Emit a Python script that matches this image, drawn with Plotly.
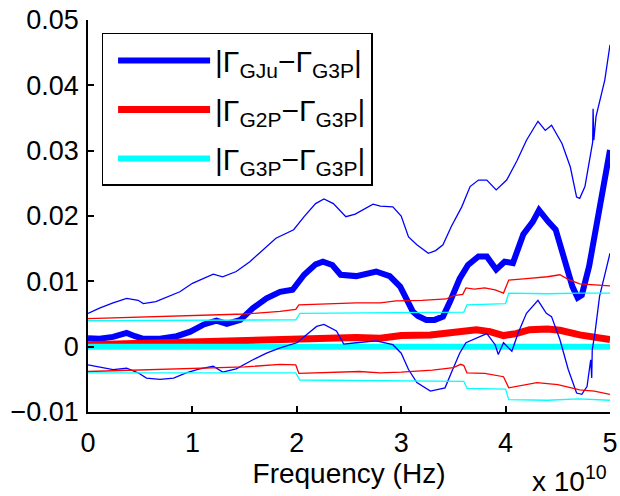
import plotly.graph_objects as go

# frequency in units of 1e10 Hz
gju_f = [0.00, 0.11, 0.24, 0.37, 0.45, 0.53, 0.69, 0.85, 0.98, 1.11, 1.23, 1.33, 1.46, 1.58, 1.71, 1.84, 1.96,
         2.07, 2.18, 2.25, 2.34, 2.42, 2.57, 2.70, 2.76, 2.89, 2.99, 3.06, 3.11, 3.16, 3.24, 3.32, 3.40, 3.47,
         3.56, 3.64, 3.74, 3.82, 3.91, 3.99, 4.07, 4.17, 4.26, 4.32, 4.36, 4.41, 4.48, 4.56, 4.64, 4.69, 4.73,
         4.80, 4.88, 4.94, 5.00]
gju_v = [0.0013, 0.0012, 0.0015, 0.0021, 0.0016, 0.0012, 0.0012, 0.0016, 0.0023, 0.0034, 0.0040, 0.0035, 0.0041,
         0.0059, 0.0074, 0.0084, 0.0087, 0.0110, 0.0126, 0.0130, 0.0125, 0.0110, 0.0108, 0.0113, 0.0115, 0.0108,
         0.0092, 0.0070, 0.0054, 0.0047, 0.0041, 0.0041, 0.0046, 0.0070, 0.0104, 0.0125, 0.0138, 0.0138, 0.0118,
         0.0130, 0.0128, 0.0172, 0.0191, 0.0209, 0.0200, 0.0191, 0.0179, 0.0138, 0.0092, 0.0075, 0.0079, 0.0123,
         0.0194, 0.0245, 0.0301]

gju_up_f = [0.00, 0.11, 0.24, 0.37, 0.48, 0.53, 0.65, 0.78, 0.88, 1.00, 1.20, 1.29, 1.42, 1.55, 1.68, 1.80, 1.97,
            2.07, 2.18, 2.26, 2.35, 2.47, 2.56, 2.73, 2.80, 2.92, 3.00, 3.07, 3.15, 3.26, 3.33, 3.40, 3.48, 3.58,
            3.66, 3.74, 3.82, 3.91, 4.01, 4.11, 4.20, 4.31, 4.38, 4.44, 4.54, 4.62, 4.68, 4.71, 4.76, 4.80, 4.834,
            4.838, 4.845, 4.866, 4.95, 5.00]
gju_up_v = [0.0051, 0.0059, 0.0067, 0.0074, 0.0071, 0.0066, 0.0069, 0.0077, 0.0084, 0.0097, 0.0111, 0.0107, 0.0115,
            0.0130, 0.0149, 0.0166, 0.0179, 0.0199, 0.0219, 0.0226, 0.0219, 0.0199, 0.0203, 0.0218, 0.0215, 0.0214,
            0.0200, 0.0168, 0.0156, 0.0143, 0.0147, 0.0156, 0.0184, 0.0214, 0.0245, 0.0255, 0.0255, 0.0240, 0.0255,
            0.0285, 0.0316, 0.0345, 0.0331, 0.0339, 0.0311, 0.0275, 0.0229, 0.0227, 0.0245, 0.0285, 0.0313, 0.0364,
            0.0316, 0.0352, 0.0408, 0.0462]

gju_lo_f = [0.00, 0.11, 0.24, 0.37, 0.48, 0.56, 0.69, 0.82, 0.94, 1.07, 1.20, 1.29, 1.42, 1.58, 1.71, 1.84, 2.00,
            2.19, 2.26, 2.38, 2.45, 2.57, 2.76, 2.92, 3.00, 3.07, 3.15, 3.28, 3.42, 3.48, 3.56, 3.62, 3.72, 3.82,
            3.90, 3.93, 3.98, 4.06, 4.12, 4.20, 4.31, 4.39, 4.44, 4.52, 4.60, 4.68, 4.73, 4.78, 4.815, 4.825, 4.83,
            4.856, 4.90, 5.00]
gju_lo_v = [-0.0028, -0.0031, -0.0035, -0.0033, -0.0040, -0.0048, -0.0050, -0.0048, -0.0040, -0.0034, -0.0030,
            -0.0039, -0.0034, -0.0020, -0.0010, -0.0002, 0.0006, 0.0031, 0.0034, 0.0024, 0.0004, 0.0006, 0.0009,
            0.0003, -0.0010, -0.0035, -0.0055, -0.0068, -0.0063, -0.0040, -0.0010, 0.0006, 0.0013, 0.0020, 0.0003,
            -0.0012, 0.0006, -0.0007, 0.0021, 0.0051, 0.0071, 0.0051, 0.0046, 0.0011, -0.0035, -0.0071, -0.0073,
            -0.0061, -0.0020, -0.0048, -0.0005, 0.0021, 0.0077, 0.0143]

g2p_f = [0.00, 0.50, 1.00, 1.50, 1.84, 2.00, 2.57, 2.80, 3.00, 3.28, 3.50, 3.72, 3.85, 3.98, 4.10, 4.23, 4.40,
         4.52, 4.71, 4.85, 5.00]
g2p_v = [0.0003, 0.0005, 0.0007, 0.0010, 0.0012, 0.0011, 0.0014, 0.0013, 0.0017, 0.0018, 0.0021, 0.0026, 0.0023,
         0.0017, 0.0020, 0.0026, 0.0027, 0.0025, 0.0018, 0.0014, 0.0011]

g2p_up_f = [0.00, 0.50, 1.00, 1.50, 1.84, 1.99, 2.02, 2.30, 2.57, 2.80, 2.95, 3.20, 3.43, 3.50, 3.59, 3.62, 3.70,
            3.80, 3.90, 3.98, 4.03, 4.20, 4.40, 4.52, 4.60, 4.71, 4.85, 5.00]
g2p_up_v = [0.0043, 0.0045, 0.0047, 0.0050, 0.0054, 0.0057, 0.0064, 0.0066, 0.0067, 0.0067, 0.0070, 0.0071,
            0.0073, 0.0078, 0.0080, 0.0090, 0.0088, 0.0090, 0.0087, 0.0082, 0.0102, 0.0104, 0.0107, 0.0110, 0.0103,
            0.0096, 0.0095, 0.0093]

g2p_lo_f = [0.00, 0.50, 1.00, 1.50, 1.84, 1.99, 2.02, 2.30, 2.60, 2.80, 3.00, 3.30, 3.50, 3.57, 3.60, 3.63, 3.80,
            3.98, 4.03, 4.30, 4.50, 4.71, 4.85, 5.00]
g2p_lo_v = [-0.0038, -0.0036, -0.0034, -0.0031, -0.0027, -0.0028, -0.0041, -0.0040, -0.0038, -0.0040, -0.0039,
            -0.0036, -0.0032, -0.0027, -0.0029, -0.0040, -0.0041, -0.0046, -0.0063, -0.0055, -0.0058, -0.0066,
            -0.0068, -0.0073]

g3p_f = [0.00, 5.00]
g3p_v = [0.0, 0.0]

g3p_up_f = [0.00, 1.99, 2.03, 3.60, 3.63, 4.00, 4.03, 4.40, 4.70, 5.00]
g3p_up_v = [0.0040, 0.0041, 0.0051, 0.0053, 0.0064, 0.0066, 0.0082, 0.0081, 0.0082, 0.0082]

g3p_lo_f = [0.00, 1.99, 2.03, 3.60, 3.63, 4.00, 4.03, 4.40, 4.70, 5.00]
g3p_lo_v = [-0.0040, -0.0040, -0.0051, -0.0053, -0.0064, -0.0065, -0.0081, -0.0082, -0.0080, -0.0082]

x_ticks = [0, 1, 2, 3, 4, 5]
y_ticks = [-0.01, 0, 0.01, 0.02, 0.03, 0.04, 0.05]
y_ticktext = ["\u22120.01", "0", "0.01", "0.02", "0.03", "0.04", "0.05"]

names = ["|\u0393<sub>GJu</sub>\u2212\u0393<sub>G3P</sub>|",
         "|\u0393<sub>G2P</sub>\u2212\u0393<sub>G3P</sub>|",
         "|\u0393<sub>G3P</sub>\u2212\u0393<sub>G3P</sub>|"]

BLUE, RED, CYAN = "#0000FF", "#FF0000", "#00FFFF"
FONT = "Liberation Sans, Arial, sans-serif"


def hz(v):
    return [x * 1e10 for x in v]


fig = go.Figure()
for i, (fx, fy, c, w) in enumerate([(gju_f, gju_v, BLUE, 6), (g2p_f, g2p_v, RED, 7), (g3p_f, g3p_v, CYAN, 6)]):
    fig.add_trace(go.Scatter(x=hz(fx), y=fy, mode="lines", line=dict(color=c, width=w),
                             name=names[i], legendgroup="g%d" % i))

for fx, fy, c in [(gju_up_f, gju_up_v, BLUE), (gju_lo_f, gju_lo_v, BLUE),
                  (g2p_up_f, g2p_up_v, RED), (g2p_lo_f, g2p_lo_v, RED),
                  (g3p_up_f, g3p_up_v, CYAN), (g3p_lo_f, g3p_lo_v, CYAN)]:
    fig.add_trace(go.Scatter(x=hz(fx), y=fy, mode="lines", line=dict(color=c, width=1.3), showlegend=False))

fig.update_layout(
    width=620, height=496,
    margin=dict(l=88, r=10, t=20, b=84),
    paper_bgcolor="white", plot_bgcolor="white",
    font=dict(family=FONT, size=27, color="black"),
    showlegend=True,
    legend=dict(x=0.026, y=0.967, xanchor="left", yanchor="top",
                bgcolor="white", bordercolor="black", borderwidth=1.5,
                font=dict(family=FONT, size=30, color="black"),
                itemwidth=92, tracegroupgap=7, indentation=10),
    xaxis=dict(range=[0, 5e10], tickvals=hz(x_ticks), ticktext=[str(t) for t in x_ticks],
               showgrid=False, zeroline=False, showline=True, linecolor="black", linewidth=1.5,
               ticks="inside", ticklen=6, tickcolor="black", tickwidth=1.5, automargin=False,
               title=dict(text="Frequency (Hz)", font=dict(size=28), standoff=6),
               tickfont=dict(size=27), ticklabelstandoff=6),
    yaxis=dict(range=[-0.01, 0.05], tickvals=y_ticks, ticktext=y_ticktext,
               showgrid=False, zeroline=False, showline=True, linecolor="black", linewidth=1.5,
               ticks="inside", ticklen=6, tickcolor="black", tickwidth=1.5, automargin=False,
               tickfont=dict(size=27), ticklabelstandoff=2),
    annotations=[dict(text="x 10<sup>10</sup>", xref="paper", yref="paper", x=0.998, y=-0.221,
                      xanchor="right", yanchor="bottom", showarrow=False, font=dict(size=28))],
)

fig.write_html("out.html", config={"displayModeBar": False},
               post_script="document.body.style.margin='0px';")
